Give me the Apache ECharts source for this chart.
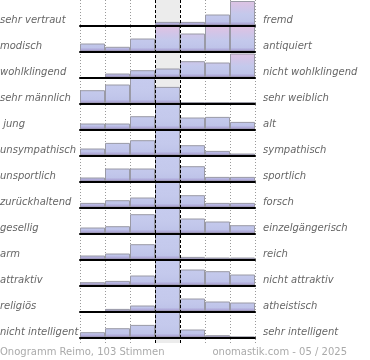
<!DOCTYPE html>
<html><head><meta charset="utf-8">
<script src="https://cdn.jsdelivr.net/npm/echarts@6/dist/echarts.min.js"></script>
<style>html,body{margin:0;padding:0;background:#fff}#c{width:370px;height:360px}</style>
</head><body><div id="c"></div>
<script>
// scale positions 1..7 between the two poles
const categories = ['1', '2', '3', '4', '5', '6', '7'];
const leftLabels = ['sehr vertraut', 'modisch', 'wohlklingend', 'sehr männlich', ' jung', 'unsympathisch', 'unsportlich', 'zurückhaltend', 'gesellig', 'arm', 'attraktiv', 'religiös', 'nicht intelligent'];
const rightLabels = ['fremd', 'antiquiert', 'nicht wohlklingend', 'sehr weiblich', 'alt', 'sympathisch', 'sportlich', 'forsch', 'einzelgängerisch', 'reich', 'nicht attraktiv', 'atheistisch', 'sehr intelligent'];
// vote shares per scale position (values above 25 are cut off at the row top)
const vertraut = [0, 0, 0, 3.6, 3.6, 11, 24.5];
const modisch = [8, 4.7, 13, 30, 18, 27, 33];
const wohlklingend = [0, 4, 7.3, 9, 16.3, 15, 24];
const maennlich = [13.3, 19, 28, 16.6, 1.5, 1.5, 1.5];
const jung = [6, 6, 13.3, 35, 12, 12.6, 7.6];
const unsympathisch = [7, 12.6, 15.3, 38, 10.3, 4.6, 2];
const unsportlich = [4, 13, 13, 40, 15.3, 4.6, 4.6];
const zurueckhaltend = [4.6, 7.3, 10, 45, 12.3, 4.6, 4.6];
const gesellig = [6, 7.3, 19.3, 35, 15, 12, 8.3];
const arm = [4, 6, 15.3, 50, 2.6, 2, 2];
const attraktiv = [3.3, 4.6, 10, 35, 16, 14.3, 11];
const religioes = [0, 2.6, 6, 45, 13, 10, 9];
const intelligent = [5.3, 9.3, 12.6, 45, 8, 2.3, 1];
const rows = [vertraut, modisch, wohlklingend, maennlich, jung, unsympathisch, unsportlich, zurueckhaltend, gesellig, arm, attraktiv, religioes, intelligent];
const footerLeft = 'Onogramm Reimo, 103 Stimmen';
const footerRight = 'onomastik.com - 05 / 2025';

const chart = echarts.init(document.getElementById('c'), null, {renderer: 'canvas'});
const ROW = 26, BH = 25, X0 = 80, W = 175;
const T = 'rgba(0,0,0,0)';
const grids = [], xAxes = [], yAxes = [], series = [], graphics = [];

grids.push({left: X0, top: 0, width: W, height: 343});
xAxes.push({gridIndex: 0, type: 'value', min: 0, max: 7, interval: 1, z: 0,
  axisLine: {show: false}, axisTick: {show: false}, axisLabel: {show: false},
  splitLine: {show: true, lineStyle: {type: [1, 2], width: 1, color: ['#9a9a9a', '#9a9a9a', '#9a9a9a', T, T, '#9a9a9a', '#9a9a9a', '#9a9a9a']}},
  splitArea: {show: true, areaStyle: {color: [T, T, T, '#ececec', T, T, T]}}});
xAxes.push({gridIndex: 0, type: 'value', min: 0, max: 7, interval: 1, z: 10,
  axisLine: {show: false}, axisTick: {show: false}, axisLabel: {show: false},
  splitLine: {show: true, lineStyle: {type: [3, 2], width: 1, color: [T, T, T, '#000', '#000', T, T, T]}}});
yAxes.push({gridIndex: 0, type: 'value', show: false, min: 0, max: 1});

const warmStops = [
  {offset: 0, color: '#e0c3e3'},
  {offset: 0.3, color: '#d0c5e8'},
  {offset: 0.55, color: '#c4c9ec'},
  {offset: 0.84, color: '#bfc4e9'},
  {offset: 0.93, color: '#aea8d8'},
  {offset: 1, color: '#9c8ec3'}
];
const coolStops = [
  {offset: 0, color: '#c6cbee'},
  {offset: 0.55, color: '#c4c9ec'},
  {offset: 0.84, color: '#bfc4e9'},
  {offset: 0.93, color: '#aea8d8'},
  {offset: 1, color: '#9c8ec3'}
];

rows.forEach((vals, i) => {
  const top = 0.5 + ROW * i;
  const gi = i + 1;
  grids.push({left: X0, top: top, width: W, height: BH});
  xAxes.push({gridIndex: gi, type: 'category', data: categories, boundaryGap: true, z: 5,
    axisLine: {show: true, lineStyle: {color: '#000', width: 2}},
    axisTick: {show: false}, axisLabel: {show: false}, splitLine: {show: false}});
  yAxes.push({gridIndex: gi, type: 'value', min: 0, max: 25, show: false});
  series.push({type: 'bar', xAxisIndex: i + 2, yAxisIndex: gi, data: vals,
    barCategoryGap: '0%', clip: true, silent: true,
    itemStyle: {color: new echarts.graphic.LinearGradient(0, top, 0, top + BH, i < 3 ? warmStops : coolStops, true),
      borderColor: '#9a9aa6', borderWidth: 1}});
  const cy = top + BH - 5.5;
  graphics.push({type: 'text', x: 0, y: cy, silent: true,
    style: {text: leftLabels[i], fill: '#666', font: 'italic 10px "DejaVu Sans"', textAlign: 'left', textVerticalAlign: 'middle'}});
  graphics.push({type: 'text', x: 263, y: cy, silent: true,
    style: {text: rightLabels[i], fill: '#666', font: 'italic 10px "DejaVu Sans"', textAlign: 'left', textVerticalAlign: 'middle'}});
});
graphics.push({type: 'text', x: 0, y: 352, silent: true,
  style: {text: footerLeft, fill: '#aaa', font: '10px "DejaVu Sans"', textAlign: 'left', textVerticalAlign: 'middle'}});
graphics.push({type: 'text', x: 347, y: 352, silent: true,
  style: {text: footerRight, fill: '#aaa', font: '10px "DejaVu Sans"', textAlign: 'right', textVerticalAlign: 'middle'}});

chart.setOption({
  animation: false,
  grid: grids, xAxis: xAxes, yAxis: yAxes, series: series,
  graphic: {elements: graphics}
});
</script></body></html>
